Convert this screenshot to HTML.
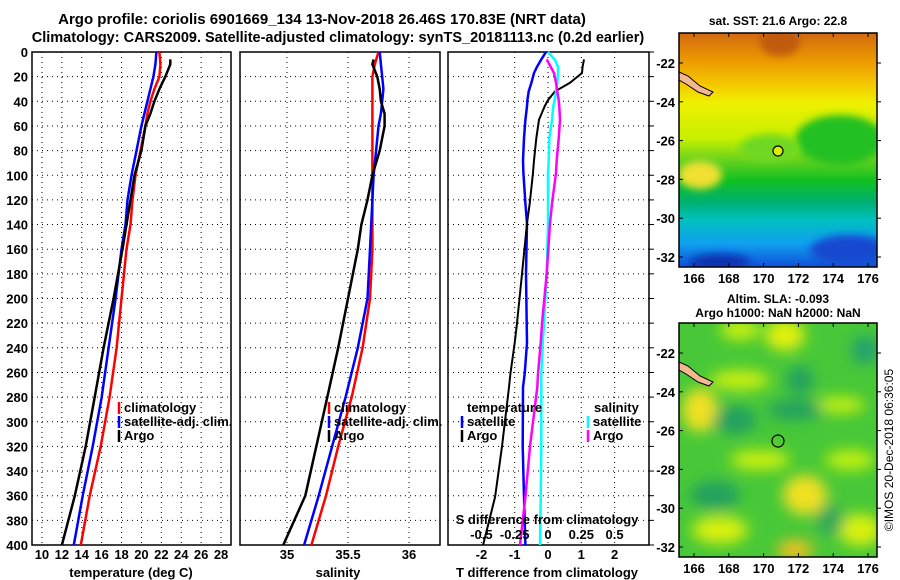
<!DOCTYPE html>
<html><head><meta charset="utf-8">
<style>
body{margin:0;background:#fff;width:900px;height:580px;overflow:hidden}
svg{display:block;font-family:"Liberation Sans",sans-serif;font-weight:bold}
</style></head>
<body>
<svg id="c" width="900" height="580" viewBox="0 0 900 580" xmlns="http://www.w3.org/2000/svg">
<defs>
<filter id="bl" x="-50%" y="-50%" width="200%" height="200%"><feGaussianBlur stdDeviation="7"/></filter>
<filter id="bl2" x="-50%" y="-50%" width="200%" height="200%"><feGaussianBlur stdDeviation="4"/></filter>
<clipPath id="cm1"><rect x="679" y="33" width="198" height="234"/></clipPath>
<clipPath id="cm2"><rect x="679" y="323" width="198" height="234"/></clipPath>
<linearGradient id="sst" x1="0" y1="0" x2="0" y2="1">
<stop offset="0" stop-color="#d26a10"/><stop offset="0.12" stop-color="#ec9a00"/>
<stop offset="0.22" stop-color="#f5c800"/><stop offset="0.3" stop-color="#eef000"/>
<stop offset="0.45" stop-color="#c8f000"/><stop offset="0.55" stop-color="#60d020"/>
<stop offset="0.63" stop-color="#10c020"/><stop offset="0.72" stop-color="#00b070"/>
<stop offset="0.8" stop-color="#00c0c0"/><stop offset="0.9" stop-color="#10a0f0"/>
<stop offset="1" stop-color="#1050d8"/></linearGradient>
</defs>
<text x="322" y="24" text-anchor="middle" font-size="15">Argo profile: coriolis 6901669_134 13-Nov-2018 26.46S 170.83E (NRT data)</text>
<text x="338" y="42" text-anchor="middle" font-size="14.5">Climatology: CARS2009. Satellite-adjusted climatology: synTS_20181113.nc (0.2d earlier)</text>
<g id="panels"></g>
<g id="maps">
<text x="778" y="25" text-anchor="middle" font-size="12">sat. SST: 21.6 Argo: 22.8</text>
<g clip-path="url(#cm1)">
<rect x="679" y="33" width="198" height="234" fill="url(#sst)"/>
<ellipse cx="840" cy="140" rx="45" ry="25" fill="#20c020" filter="url(#bl2)"/>
<ellipse cx="770" cy="148" rx="30" ry="14" fill="#70d820" filter="url(#bl2)"/>
<ellipse cx="700" cy="175" rx="22" ry="14" fill="#f0e030" filter="url(#bl2)"/>
<ellipse cx="850" cy="250" rx="40" ry="15" fill="#1848d0" filter="url(#bl2)"/>
<ellipse cx="720" cy="262" rx="30" ry="8" fill="#1030b0" filter="url(#bl2)"/>
<ellipse cx="780" cy="42" rx="20" ry="14" fill="#c05a10" filter="url(#bl2)"/>
<path d="M679,72 L688,76 L700,86 L713,92 L709,96 L698,92 L686,84 L679,80Z" fill="#f4b890" stroke="#000" stroke-width="1"/>
<circle cx="778" cy="151" r="5" fill="#d8f000" stroke="#000" stroke-width="1.2"/>
</g>
<rect x="679" y="33" width="198" height="234" fill="none" stroke="#000" stroke-width="1.5"/>
<text x="778" y="303" text-anchor="middle" font-size="12">Altim. SLA: -0.093</text>
<text x="778" y="317" text-anchor="middle" font-size="12">Argo h1000: NaN h2000: NaN</text>
<g clip-path="url(#cm2)">
<rect x="679" y="323" width="198" height="234" fill="#48c838"/>
<g filter="url(#bl)">
<ellipse cx="700" cy="410" rx="18" ry="22" fill="#f0e020"/>
<ellipse cx="785" cy="335" rx="20" ry="16" fill="#e0f010"/>
<ellipse cx="805" cy="495" rx="22" ry="20" fill="#f0e020"/>
<ellipse cx="795" cy="550" rx="18" ry="10" fill="#f0c020"/>
<ellipse cx="720" cy="530" rx="28" ry="14" fill="#d8f010"/>
<ellipse cx="860" cy="530" rx="22" ry="16" fill="#d8f010"/>
<ellipse cx="760" cy="460" rx="30" ry="10" fill="#c8f010"/>
<ellipse cx="740" cy="380" rx="30" ry="10" fill="#c8f010"/>
<ellipse cx="840" cy="405" rx="25" ry="8" fill="#c8f010"/>
<ellipse cx="850" cy="460" rx="25" ry="10" fill="#c0f010"/>
<ellipse cx="740" cy="330" rx="20" ry="10" fill="#c8f010"/>
<ellipse cx="735" cy="420" rx="22" ry="14" fill="#20a060"/>
<ellipse cx="795" cy="410" rx="28" ry="10" fill="#20a060"/>
<ellipse cx="800" cy="380" rx="14" ry="14" fill="#20a060"/>
<ellipse cx="865" cy="350" rx="14" ry="14" fill="#20a070"/>
<ellipse cx="715" cy="495" rx="25" ry="14" fill="#20a060"/>
<ellipse cx="830" cy="520" rx="14" ry="16" fill="#30a858"/>
</g>
<path d="M679,362 L688,366 L700,376 L713,382 L709,386 L698,382 L686,374 L679,370Z" fill="#f4b890" stroke="#000" stroke-width="1"/>
<circle cx="778" cy="441" r="6" fill="none" stroke="#000" stroke-width="1.2"/>
</g>
<rect x="679" y="323" width="198" height="234" fill="none" stroke="#000" stroke-width="1.5"/>
<g id="maxes"></g>
<text transform="translate(893,450) rotate(-90)" text-anchor="middle" font-size="12" font-weight="normal">©IMOS 20-Dec-2018 06:36:05</text>
</g>
</svg>
<script>
// depths (m) for each profile
const depthT = [0,10,20,30,40,50,60,80,100,120,140,160,200,240,280,320,360,400];
const tempClim = [21.8,21.9,21.8,21.3,20.9,20.6,20.4,19.9,19.4,19.1,18.9,18.5,18.0,17.5,16.8,15.9,14.8,13.9];
const tempSat  = [21.5,21.4,21.2,20.9,20.6,20.3,20.0,19.5,19.0,18.6,18.4,18.0,17.4,16.7,16.0,15.1,14.1,13.2];
const depthArgo = [6,10,20,30,40,50,60,80,100,120,140,160,200,240,280,320,360,400];
const tempArgo = [22.9,22.9,22.4,21.8,21.3,20.9,20.4,20.0,19.3,18.9,18.5,18.1,17.2,16.2,15.3,14.4,13.3,12.0];
const salClim = [35.75,35.72,35.70,35.70,35.70,35.70,35.70,35.70,35.70,35.70,35.70,35.70,35.68,35.62,35.53,35.42,35.32,35.20];
const salSat  = [35.76,35.77,35.78,35.79,35.78,35.77,35.75,35.73,35.71,35.70,35.69,35.68,35.66,35.58,35.48,35.37,35.26,35.14];
const salArgo = [35.71,35.70,35.74,35.76,35.77,35.80,35.80,35.76,35.70,35.66,35.61,35.58,35.50,35.42,35.33,35.24,35.15,34.97];
const depthD = [0,6,12,17,25,32,39,44,55,70,88,98,123,139,180,220,236,261,272,320,361,400];
const dTsat  = [-0.06,-0.2,-0.33,-0.42,-0.5,-0.58,-0.62,-0.63,-0.68,-0.72,-0.75,-0.74,-0.68,-0.63,-0.66,-0.64,-0.63,-0.70,-0.75,-0.76,-0.72,-0.68];
const dTargo = [null,1.08,1.04,1.02,0.66,0.21,0.0,-0.1,-0.27,-0.35,-0.42,-0.45,-0.55,-0.63,-0.78,-0.93,-1.0,-1.13,-1.17,-1.38,-1.59,-1.95];
const dSsat  = [0.0,0.05,0.075,0.075,0.07,0.06,0.05,0.04,0.03,0.01,0.005,0.0,0.0,0.0,-0.01,-0.03,-0.04,-0.05,-0.05,-0.05,-0.055,-0.06];
const dSargo = [null,-0.01,0.02,0.045,0.06,0.07,0.08,0.085,0.09,0.08,0.065,0.06,0.03,0.015,-0.01,-0.045,-0.055,-0.075,-0.08,-0.135,-0.17,-0.21];
const depthTicks = [0,20,40,60,80,100,120,140,160,180,200,220,240,260,280,300,320,340,360,380,400];
const tTicks = [10,12,14,16,18,20,22,24,26,28];
const sTicks = [35,35.5,36];
const dTTicks = [-2,-1,0,1,2];
const dSTicks = [-0.5,-0.25,0,0.25,0.5];
const latTicks = [-22,-24,-26,-28,-30,-32];
const lonTicks = [166,168,170,172,174,176];

const NS='http://www.w3.org/2000/svg';
const root=document.getElementById('panels');
const Y0=52,Y1=545;
const FS=13;
const yD=d=>Y0+(d/400)*(Y1-Y0);
function mk(tag,attrs,parent){const e=document.createElementNS(NS,tag);for(const k in attrs)e.setAttribute(k,attrs[k]);(parent||root).appendChild(e);return e;}
function txt(x,y,s,size,anchor,parent){const t=mk('text',{x:x,y:y,'font-size':size,'text-anchor':anchor||'middle'},parent);t.textContent=s;return t;}

function panel(name,x0,x1,xf,ticks,tickLab){
  const g=mk('g',{});
  
  
  depthTicks.forEach(d=>{if(d>0&&d<400)mk('line',{x1:x0,x2:x1,y1:yD(d),y2:yD(d),stroke:'#000','stroke-width':1,'stroke-dasharray':'1,4'},g);});
  ticks.forEach(v=>{const x=xf(v);mk('line',{x1:x,x2:x,y1:Y0,y2:Y1,stroke:'#000','stroke-width':1,'stroke-dasharray':'1,4'},g);
    if(tickLab){const t=txt(x,559,String(v),FS,'middle',g);}});
  mk('rect',{x:x0,y:Y0,width:x1-x0,height:Y1-Y0,fill:'none',stroke:'#000','stroke-width':1.5},g);
  return g;
}
function line(g,name,xs,ds,xf,color,w){
  let pts=[];xs.forEach((v,i)=>{if(v!==null)pts.push(xf(v).toFixed(1)+','+yD(ds[i]).toFixed(1));});
  const p=mk('polyline',{points:pts.join(' '),fill:'none',stroke:color,'stroke-width':w||2.5},g);
  
  
}
function legend(g,x,y,color,label){
  const le=mk('g',{},g);
  
  
  mk('line',{x1:x,x2:x,y1:y-10,y2:y+2,stroke:color,'stroke-width':2.5},le);
  txt(x+5,y,label,FS,'start',le);
}

// Panel 1 temperature
const xT=v=>32+(v-9)*(231-32)/20;
const g1=panel('temperature-panel',32,231,xT,tTicks,true);
depthTicks.forEach(d=>{const t=txt(28,yD(d)+5,String(d),FS,'end',g1);});
line(g1,'temp-climatology-line',tempClim,depthT,xT,'#ff0000');
line(g1,'temp-satellite-line',tempSat,depthT,xT,'#0000ff');
line(g1,'temp-argo-line',tempArgo,depthArgo,xT,'#000000');
legend(g1,119,412,'#ff0000','climatology');
legend(g1,119,426,'#0000ff','satellite-adj. clim.');
legend(g1,119,440,'#000','Argo');
const t1=txt(131,577,'temperature (deg C)',FS,'middle',g1);

// Panel 2 salinity
const xS=v=>287+(v-35)*122;
const g2=panel('salinity-panel',240,440,xS,sTicks,true);
line(g2,'sal-climatology-line',salClim,depthT,xS,'#ff0000');
line(g2,'sal-satellite-line',salSat,depthT,xS,'#0000ff');
line(g2,'sal-argo-line',salArgo,depthArgo,xS,'#000');
legend(g2,329,412,'#ff0000','climatology');
legend(g2,329,426,'#0000ff','satellite-adj. clim.');
legend(g2,329,440,'#000','Argo');
const t2=txt(338,577,'salinity',FS,'middle',g2);

// Panel 3 differences
const xDT=v=>548+v*33.3;
const xDS=v=>548+v*133.2;
const g3=panel('difference-panel',448,649,xDT,dTTicks,true);
depthTicks.forEach(d=>mk('line',{x1:649,x2:654,y1:yD(d),y2:yD(d),stroke:'#000','stroke-width':1},g3));
line(g3,'tdiff-satellite-line',dTsat,depthD,xDT,'#0000ff',2.5);
line(g3,'tdiff-argo-line',dTargo,depthD,xDT,'#000',2);
line(g3,'sdiff-satellite-line',dSsat,depthD,xDS,'#00ffff',2.5);
line(g3,'sdiff-argo-line',dSargo,depthD,xDS,'#ff00ff',2.5);
txt(467,412,'temperature',FS,'start',g3);
legend(g3,462,426,'#0000ff','satellite');
legend(g3,462,440,'#000','Argo');
txt(594,412,'salinity',FS,'start',g3);
legend(g3,588,426,'#00ffff','satellite');
legend(g3,588,440,'#ff00ff','Argo');
txt(547,524,'S difference from climatology',FS,'middle',g3);
dSTicks.forEach(v=>txt(xDS(v),539,String(v),FS,'middle',g3));
const t3=txt(547,577,'T difference from climatology',FS,'middle',g3);

// map axes
const mg=document.getElementById('maxes');
const lonX=v=>694+(v-166)*17.4;
[[33,267],[323,557]].forEach(([top,bot],k)=>{
  const latY=v=>top+30+(-22-v)*19.4;
  lonTicks.forEach(v=>{const x=lonX(v);mk('line',{x1:x,x2:x,y1:top,y2:top+4,stroke:'#000'},mg);mk('line',{x1:x,x2:x,y1:bot,y2:bot-4,stroke:'#000'},mg);txt(x,bot+16,String(v),FS,'middle',mg);});
  latTicks.forEach(v=>{const y=latY(v);mk('line',{x1:877,x2:881,y1:y,y2:y,stroke:'#000'},mg);mk('line',{x1:679,x2:683,y1:y,y2:y,stroke:'#000'},mg);txt(675,y+5,String(v),FS,'end',mg);});
});
</script>
</body></html>
